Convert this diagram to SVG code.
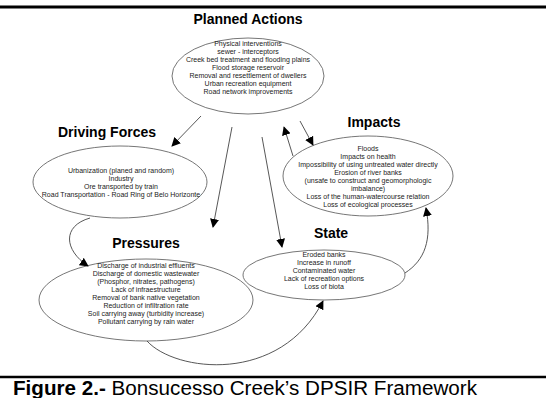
<svg xmlns="http://www.w3.org/2000/svg" width="546" height="398" viewBox="0 0 546 398">
<defs>
<marker id="ah" viewBox="0 0 10 10" refX="9" refY="5" markerWidth="9" markerHeight="9" markerUnits="userSpaceOnUse" orient="auto">
<path d="M0,0 L10,5 L0,10 z" fill="#000"/>
</marker>
<style>
.ell{fill:#fff;stroke:#666;stroke-width:0.9}
.ttl{font-family:"Liberation Sans",Arial,sans-serif;font-size:14px;font-weight:bold;fill:#000;text-anchor:middle}
.bd{font-family:"Liberation Sans",Arial,sans-serif;font-size:7px;fill:#222;text-anchor:middle}
.con{fill:none;stroke:#444;stroke-width:0.9;marker-end:url(#ah)}
.rule{stroke:#000}
</style>
</defs>
<rect width="546" height="398" fill="#fff"/>
<line class="rule" x1="0" y1="7" x2="546" y2="7" stroke-width="3"/>
<line class="rule" x1="0" y1="377" x2="546" y2="377" stroke-width="2.5"/>

<g id="planned-actions">
<text class="ttl" x="248" y="24">Planned Actions</text>
<ellipse class="ell" cx="248" cy="76" rx="76" ry="38"/>
<text class="bd" x="248" y="46">Physical interventions</text>
<text class="bd" x="248" y="54">sewer - interceptors</text>
<text class="bd" x="248" y="62">Creek bed treatment and flooding plains</text>
<text class="bd" x="248" y="70">Flood storage reservoir</text>
<text class="bd" x="248" y="78">Removal and resettlement of dwellers</text>
<text class="bd" x="248" y="86">Urban recreation equipment</text>
<text class="bd" x="248" y="94">Road network improvements</text>
</g>

<g id="driving-forces">
<text class="ttl" x="107" y="137">Driving Forces</text>
<ellipse class="ell" cx="120" cy="182" rx="87" ry="36"/>
<text class="bd" x="121" y="173">Urbanization (planed and random)</text>
<text class="bd" x="121" y="181">Industry</text>
<text class="bd" x="121" y="189">Ore transported by train</text>
<text class="bd" x="121" y="197">Road Transportation - Road Ring of Belo Horizonte</text>
</g>

<g id="impacts">
<text class="ttl" x="374" y="127">Impacts</text>
<ellipse class="ell" cx="368" cy="176" rx="85" ry="40"/>
<text class="bd" x="368" y="151">Floods</text>
<text class="bd" x="368" y="159">Impacts on health</text>
<text class="bd" x="368" y="167">Impossibility of using untreated water directly</text>
<text class="bd" x="368" y="175">Erosion of river banks</text>
<text class="bd" x="368" y="183">(unsafe to construct and geomorphologic</text>
<text class="bd" x="368" y="191">imbalance)</text>
<text class="bd" x="368" y="199">Loss of the human-watercourse relation</text>
<text class="bd" x="368" y="207">Loss of ecological processes</text>
</g>

<g id="pressures">
<text class="ttl" x="146" y="248">Pressures</text>
<ellipse class="ell" cx="146" cy="300" rx="107" ry="41"/>
<text class="bd" x="146" y="268">Discharge of industrial effluents</text>
<text class="bd" x="146" y="276">Discharge of domestic wastewater</text>
<text class="bd" x="146" y="284">(Phosphor, nitrates, pathogens)</text>
<text class="bd" x="146" y="292">Lack of infraestructure</text>
<text class="bd" x="146" y="300">Removal of bank native vegetation</text>
<text class="bd" x="146" y="308">Reduction of infiltration rate</text>
<text class="bd" x="146" y="316">Soil carrying away (turbidity increase)</text>
<text class="bd" x="146" y="324">Pollutant carrying by rain water</text>
</g>

<g id="state">
<text class="ttl" x="331" y="238">State</text>
<ellipse class="ell" cx="324" cy="275" rx="81" ry="25"/>
<text class="bd" x="324" y="257">Eroded banks</text>
<text class="bd" x="324" y="265">Increase in runoff</text>
<text class="bd" x="324" y="273">Contaminated water</text>
<text class="bd" x="324" y="281">Lack of recreation options</text>
<text class="bd" x="324" y="289">Loss of biota</text>
</g>

<g id="connectors">
<path class="con" d="M201,116 L172,146"/>
<path class="con" d="M232,127 L213,227"/>
<path class="con" d="M262,137 L282,247"/>
<path class="con" d="M293,156 L284,127"/>
<path class="con" d="M300,121 L313,145"/>
<path class="con" d="M90,218 C62,226 64,250 88,266"/>
<path class="con" d="M147,341 C175,372 280,385 323,301"/>
<path class="con" d="M405,273 C425,260 432,240 426,208"/>
</g>

<g id="caption">
<text x="13" y="395" font-family="'Liberation Sans',Arial,sans-serif" font-size="19.5" fill="#000" textLength="464" lengthAdjust="spacingAndGlyphs"><tspan font-weight="bold">Figure 2.-</tspan> Bonsucesso Creek’s DPSIR Framework</text>
</g>
</svg>
